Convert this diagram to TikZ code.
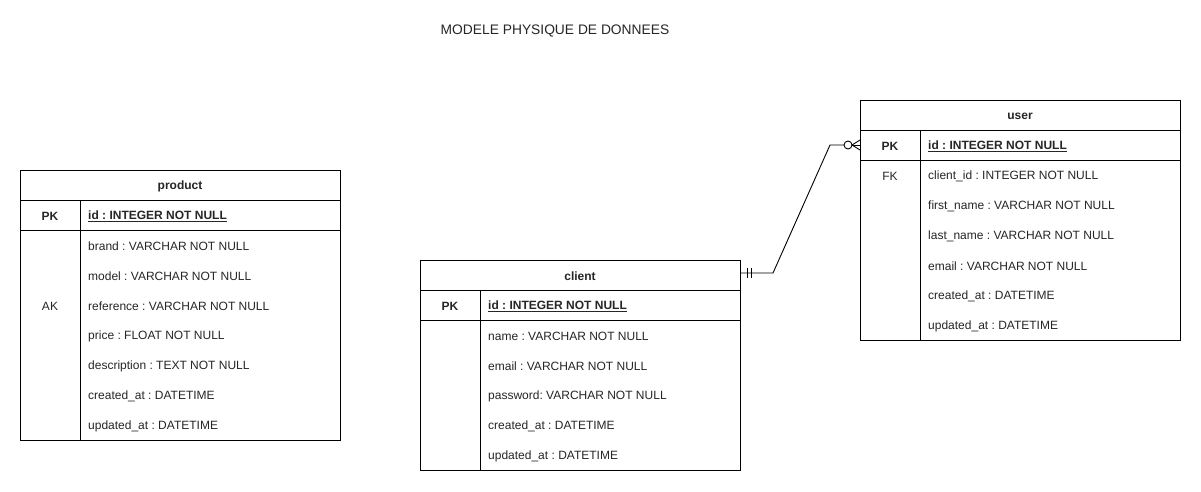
\documentclass[tikz,border=0pt]{standalone}
\usepackage{fontspec}
\setmainfont{Liberation Sans}
\frenchspacing
\begin{document}
\frenchspacing
\begin{tikzpicture}[x=1pt,y=-1pt,
  every node/.style={inner sep=0pt, font=\fontsize{12}{14}\selectfont\frenchspacing, text=black!85},
  txt/.style={yshift=-1.3pt},
  tbl/.style={draw, line width=0.9pt, anchor=north west, minimum width=320pt, fill=white},
  hdr/.style={txt, font=\fontsize{12}{14}\selectfont\bfseries},
  keycell/.style={txt, font=\fontsize{12}{14}\selectfont\bfseries},
  fld/.style={txt, anchor=west},
  pkfld/.style={txt, anchor=west, font=\fontsize{12}{14}\selectfont\bfseries\frenchspacing},
  grid/.style={line width=0.9pt},
  rel/.style={line width=0.9pt}]
\useasboundingbox (0,0) rectangle (1201,491);
\fill[white] (0,0) rectangle (1201,491);

% title
\node[txt, font=\fontsize{13.8}{16}\selectfont] (title) at (555,29.5) {MODELE PHYSIQUE DE DONNEES};

% ---------------- product ----------------
\node[tbl, minimum height=270pt] (product) at (20,170) {};
\node[hdr] (product-h) at (180,185) {product};
\draw[grid] (20,200) -- (340,200);
\draw[grid] (20,230) -- (340,230);
\draw[grid] (80,200) -- (80,440);
\node[keycell] (product-pk) at (50,215) {PK};
\node[pkfld] (product-id) at (88,215) {\underline{id : INTEGER NOT NULL}};
\node[txt] (product-ak) at (50,305) {AK};
\foreach \t [count=\i] in {brand : VARCHAR NOT NULL, model : VARCHAR NOT NULL, reference : VARCHAR NOT NULL, price : FLOAT NOT NULL, description : TEXT NOT NULL, created\_at : DATETIME, updated\_at : DATETIME}
  \node[fld] (product-f\i) at (88,{215+30*\i}) {\t};

% ---------------- client ----------------
\node[tbl, minimum height=210pt] (client) at (420,260) {};
\node[hdr] (client-h) at (580,275) {client};
\draw[grid] (420,290) -- (740,290);
\draw[grid] (420,320) -- (740,320);
\draw[grid] (480,290) -- (480,470);
\node[keycell] (client-pk) at (450,305) {PK};
\node[pkfld] (client-id) at (488,305) {\underline{id : INTEGER NOT NULL}};
\foreach \t [count=\i] in {name : VARCHAR NOT NULL, email : VARCHAR NOT NULL, password: VARCHAR NOT NULL, created\_at : DATETIME, updated\_at : DATETIME}
  \node[fld] (client-f\i) at (488,{305+30*\i}) {\t};

% ---------------- user ----------------
\node[tbl, minimum height=240pt] (user) at (860,100) {};
\node[hdr] (user-h) at (1020,115) {user};
\draw[grid] (860,130) -- (1180,130);
\draw[grid] (860,160) -- (1180,160);
\draw[grid] (920,130) -- (920,340);
\node[keycell] (user-pk) at (890,145) {PK};
\node[pkfld] (user-id) at (928,145) {\underline{id : INTEGER NOT NULL}};
\node[txt] (user-fk) at (890,175) {FK};
\foreach \t [count=\i] in {client\_id : INTEGER NOT NULL, first\_name : VARCHAR NOT NULL, last\_name : VARCHAR NOT NULL, email : VARCHAR NOT NULL, created\_at : DATETIME, updated\_at : DATETIME}
  \node[fld] (user-f\i) at (928,{145+30*\i}) {\t};

% ---------------- relation ----------------
\coordinate (cA) at (740,273);
\coordinate (cB) at (773,273);
\coordinate (cC) at (830,145);
\coordinate (uA) at (860,145);
\draw[rel] (cA) -- (cB) -- (cC) -- (844,145);
% mandatory one marks
\draw[rel] (747,268) -- (747,278);
\draw[rel] (751,268) -- (751,278);
% zero or many
\draw[rel] (848,145) circle (4);
\draw[rel] (852,145) -- (uA);
\draw[rel] (852,145) -- (860,140);
\draw[rel] (852,145) -- (860,150);
\end{tikzpicture}
\end{document}
